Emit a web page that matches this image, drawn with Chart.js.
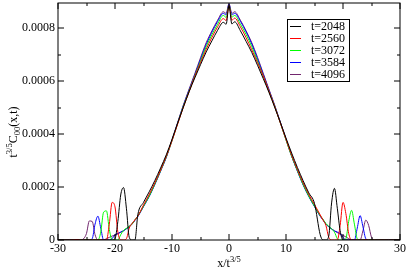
<!DOCTYPE html>
<html>
<head>
<meta charset="utf-8">
<script src="https://cdn.jsdelivr.net/npm/chart.js@4.4.0/dist/chart.umd.min.js"></script>
<style>
  html, body { margin: 0; padding: 0; background: #fff; }
</style>
</head>
<body>
<canvas id="chart" width="407" height="271"></canvas>
<script>
// x / t^(3/5) sample positions, shared by all series
const xs = [-30, -28, -26.5, -26, -25.5, -25, -24.5, -24, -23.5, -23, -22.5, -22, -21.5, -21, -20.5, -20,
  -19.5, -19, -18.5, -18, -17.5, -17, -16.5, -16,
  -15, -14, -13, -12, -11, -10, -9, -8, -7, -6, -5, -4, -3, -2, -1, -0.5, 0, 0.5,
  1, 2, 3, 4, 5, 6, 7, 8, 9, 10, 11, 12, 13, 14, 15,
  16, 16.5, 17, 17.5, 18, 18.5, 19, 19.5, 20, 20.5, 21, 21.5, 22, 22.5, 23, 23.5, 24, 24.5,
  25, 25.5, 26, 26.5, 28, 30];

// t^(3/5) C00(x,t), in units of 1e-4
const t2048 = [0, 0, 0, 0, 0, 0, 0, 0, 0, 0, 0, 0, 0, 0, 0, 0.05, 0.7, 1.7, 1.98, 1.2, 0.1, 0, 0, 0.95,
  1.42, 1.82, 2.25, 2.72, 3.22, 3.8, 4.42, 5.02, 5.6, 6.12, 6.62, 7.1, 7.52, 7.92, 8.22, 8.15, 8.85, 8.16,
  8.24, 7.9, 7.5, 7.08, 6.6, 6.1, 5.58, 5.02, 4.45, 3.85, 3.28, 2.74, 2.24, 1.78, 1.38,
  0.2, 0, 0, 0.15, 1.4, 1.95, 1.2, 0.35, 0, 0, 0, 0, 0, 0, 0, 0, 0, 0, 0, 0, 0, 0, 0, 0];
const t2560 = [0, 0, 0.02, 0, 0, 0, 0, 0, 0, 0, 0, 0, 0, 0.6, 1.42, 1.25, 0.3, 0, 0, 0.05, 0.45, 0.62, 0.76, 0.9,
  1.32, 1.72, 2.16, 2.64, 3.16, 3.75, 4.38, 5.02, 5.6, 6.18, 6.7, 7.2, 7.65, 8.05, 8.36, 8.29, 8.85, 8.3,
  8.38, 8.05, 7.64, 7.18, 6.7, 6.2, 5.62, 5.05, 4.42, 3.8, 3.2, 2.66, 2.16, 1.72, 1.34,
  0.95, 0.75, 0.55, 0.1, 0, 0, 0, 0.55, 1.42, 1.0, 0.25, 0, 0, 0, 0, 0, 0.02, 0, 0, 0, 0, 0, 0, 0];
const t3072 = [0, 0, 0, 0, 0, 0.02, 0, 0, 0, 0, 0.3, 1.05, 1.1, 0.4, 0, 0, 0, 0.2, 0.36, 0.44, 0.52, 0.6, 0.76, 0.9,
  1.28, 1.66, 2.12, 2.62, 3.14, 3.75, 4.4, 5.05, 5.62, 6.2, 6.75, 7.3, 7.75, 8.15, 8.48, 8.41, 8.85, 8.42,
  8.48, 8.15, 7.76, 7.3, 6.76, 6.2, 5.62, 5.06, 4.42, 3.78, 3.16, 2.62, 2.1, 1.66, 1.28,
  0.92, 0.78, 0.62, 0.52, 0.42, 0.3, 0.05, 0, 0, 0.05, 0.7, 1.12, 0.6, 0.05, 0, 0, 0, 0, 0.02, 0, 0, 0, 0, 0];
const t3584 = [0, 0.02, 0, 0, 0.02, 0, 0, 0.05, 0.6, 0.9, 0.45, 0, 0, 0, 0.05, 0.2, 0.25, 0.3, 0.35, 0.42, 0.5, 0.6, 0.74, 0.88,
  1.26, 1.64, 2.1, 2.6, 3.12, 3.76, 4.42, 5.08, 5.66, 6.24, 6.82, 7.38, 7.85, 8.25, 8.56, 8.5, 8.9, 8.5,
  8.56, 8.26, 7.86, 7.4, 6.84, 6.26, 5.66, 5.08, 4.44, 3.8, 3.16, 2.6, 2.08, 1.64, 1.26,
  0.9, 0.76, 0.6, 0.5, 0.42, 0.34, 0.3, 0.25, 0.1, 0, 0, 0, 0, 0.45, 0.92, 0.5, 0.05, 0, 0.02, 0, 0.02, 0, 0.02, 0];
const t4096 = [0, 0, 0.02, 0, 0.05, 0.25, 0.72, 0.7, 0.2, 0, 0, 0, 0.05, 0.1, 0.15, 0.18, 0.23, 0.29, 0.35, 0.43, 0.52, 0.62, 0.76, 0.9,
  1.28, 1.66, 2.12, 2.62, 3.14, 3.78, 4.45, 5.1, 5.7, 6.28, 6.88, 7.45, 7.9, 8.3, 8.62, 8.56, 8.92, 8.56,
  8.62, 8.3, 7.9, 7.45, 6.9, 6.3, 5.7, 5.1, 4.46, 3.8, 3.16, 2.62, 2.1, 1.66, 1.28,
  0.9, 0.76, 0.6, 0.5, 0.42, 0.35, 0.28, 0.22, 0.17, 0.12, 0.05, 0, 0, 0, 0, 0.35, 0.75, 0.55, 0.1, 0, 0, 0.02, 0, 0];

const seriesLabels = ["t=2048", "t=2560", "t=3072", "t=3584", "t=4096"];
const seriesValues = [t2048, t2560, t3072, t3584, t4096];
const seriesColors = ["#000000", "#ff0000", "#00ff00", "#0000ff", "#72266e"];

const xTicks = [-30, -20, -10, 0, 10, 20, 30];
const xMinorTicks = [-25, -15, -5, 5, 15, 25];
const yTicks = [0, 2, 4, 6, 8];
const yTickLabels = ["0", "0.0002", "0.0004", "0.0006", "0.0008"];
const yMinorTicks = [1, 3, 5, 7];

const FONT = "Liberation Serif";

// draws super/subscript pieces one after another, returns total width
function drawRich(ctx, parts, x, y, measureOnly) {
  let cx = x;
  parts.forEach((p) => {
    const size = p.pos ? 8.5 : 12;
    ctx.font = `${size}px "${FONT}"`;
    const dy = p.pos === "sup" ? -5 : p.pos === "sub" ? 3 : 0;
    if (!measureOnly) ctx.fillText(p.text, cx, y + dy);
    cx += ctx.measureText(p.text).width;
  });
  return cx - x;
}

const framePlugin = {
  id: "frame",
  afterDraw(chart) {
    const { ctx, chartArea: a, scales } = chart;
    const sx = scales.x;
    const sy = scales.y;
    ctx.save();
    ctx.strokeStyle = "#000";
    ctx.lineWidth = 1;
    ctx.strokeRect(a.left, a.top, a.right - a.left, a.bottom - a.top);

    // inward ticks on all four sides
    ctx.beginPath();
    const tickX = (v, len) => {
      const p = Math.round(sx.getPixelForValue(v));
      ctx.moveTo(p, a.bottom); ctx.lineTo(p, a.bottom - len);
      ctx.moveTo(p, a.top); ctx.lineTo(p, a.top + len);
    };
    const tickY = (v, len) => {
      const p = Math.round(sy.getPixelForValue(v));
      ctx.moveTo(a.left, p); ctx.lineTo(a.left + len, p);
      ctx.moveTo(a.right, p); ctx.lineTo(a.right - len, p);
    };
    xTicks.forEach((v) => tickX(v, 6));
    xMinorTicks.forEach((v) => tickX(v, 3));
    yTicks.forEach((v) => tickY(v, 6));
    yMinorTicks.forEach((v) => tickY(v, 3));
    ctx.stroke();

    // axis titles
    ctx.fillStyle = "#000";
    ctx.textBaseline = "alphabetic";
    ctx.textAlign = "left";
    const xParts = [{ text: "x/t" }, { text: "3/5", pos: "sup" }];
    const xw = drawRich(ctx, xParts, 0, 0, true);
    drawRich(ctx, xParts, (a.left + a.right) / 2 - xw / 2, 267);

    const yParts = [{ text: "t" }, { text: "3/5", pos: "sup" }, { text: "C" }, { text: "00", pos: "sub" }, { text: "(x,t)" }];
    const yw = drawRich(ctx, yParts, 0, 0, true);
    ctx.translate(17, 132);
    ctx.rotate(-Math.PI / 2);
    drawRich(ctx, yParts, -yw / 2, 0);
    ctx.restore();

    // legend box
    ctx.save();
    const lx = 287, ly = 19, lw = 62, lh = 62;
    ctx.fillStyle = "#fff";
    ctx.fillRect(lx, ly, lw, lh);
    ctx.strokeStyle = "#000";
    ctx.lineWidth = 1;
    ctx.strokeRect(lx + 0.5, ly + 0.5, lw, lh);
    ctx.font = `12px "${FONT}"`;
    ctx.textBaseline = "middle";
    seriesLabels.forEach((label, i) => {
      const ry = Math.round(ly + 7 + i * 11.9) + 0.5;
      ctx.strokeStyle = seriesColors[i];
      ctx.beginPath();
      ctx.moveTo(290, ry);
      ctx.lineTo(301, ry);
      ctx.stroke();
      ctx.fillStyle = "#000";
      ctx.fillText(label, 311, ry + 0.5);
    });
    ctx.restore();
  },
};

const datasets = seriesLabels.map((label, i) => ({
  label,
  data: xs.map((x, k) => ({ x, y: seriesValues[i][k] })),
  borderColor: seriesColors[i],
  borderWidth: 1,
  pointRadius: 0,
  fill: false,
  cubicInterpolationMode: "monotone",
}));

Chart.defaults.font.family = FONT;

new Chart(document.getElementById("chart"), {
  type: "line",
  data: { datasets },
  plugins: [framePlugin],
  options: {
    responsive: false,
    animation: false,
    devicePixelRatio: 1,
    layout: { padding: { top: 3, right: 7, left: 0, bottom: 0 } },
    plugins: { legend: { display: false }, tooltip: { enabled: false } },
    scales: {
      x: {
        type: "linear",
        min: -30,
        max: 30,
        afterBuildTicks: (s) => { s.ticks = xTicks.map((v) => ({ value: v })); },
        afterFit: (s) => { s.height = 31; s.paddingLeft = 0; s.paddingRight = 0; },
        grid: { display: false, drawTicks: false },
        border: { display: false },
        ticks: { color: "#000", font: { size: 12 }, padding: 2, maxRotation: 0, autoSkip: false, callback: (v) => String(v) },
      },
      y: {
        type: "linear",
        min: 0,
        max: 8.95,
        afterBuildTicks: (s) => { s.ticks = yTicks.map((v) => ({ value: v })); },
        afterFit: (s) => { s.width = 58; s.paddingTop = 0; s.paddingBottom = 0; },
        grid: { display: false, drawTicks: false },
        border: { display: false },
        ticks: { color: "#000", font: { size: 12 }, padding: 3, autoSkip: false, callback: (v, i) => yTickLabels[i] },
      },
    },
  },
});
</script>
</body>
</html>
